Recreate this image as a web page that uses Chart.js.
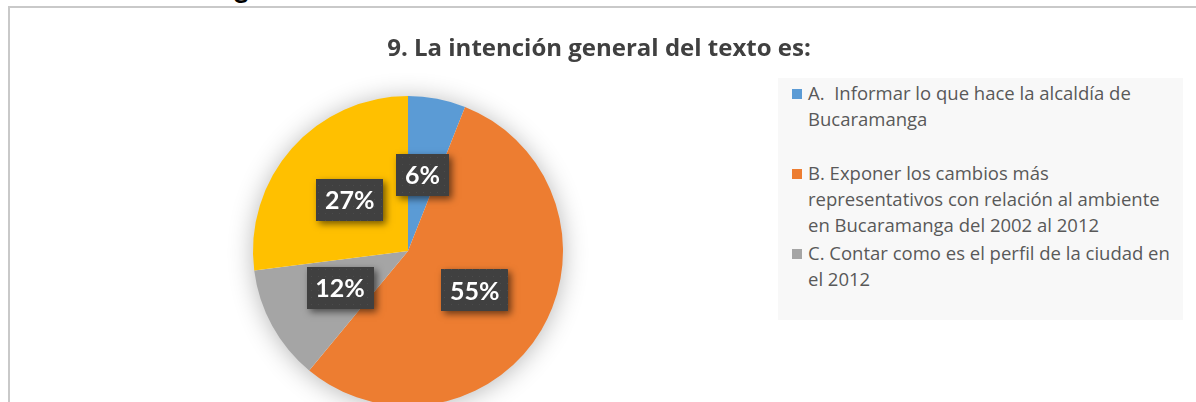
<!DOCTYPE html>
<html><head><meta charset="utf-8">
<script src="https://cdn.jsdelivr.net/npm/chart.js@4.4.1/dist/chart.umd.min.js"></script>
<style>
html,body{margin:0;padding:0;width:1196px;height:402px;overflow:hidden;background:#fff;}
#frame{position:absolute;left:8px;top:6px;width:1300px;height:500px;border-top:2px solid #c9c9c9;border-left:2px solid #c9c9c9;}
#frag{position:absolute;left:234px;top:-28px;font:bold 28px Lato, sans-serif;line-height:30px;color:#000;}
#wrap{position:absolute;left:0;top:0;width:1196px;height:440px;}
#title{position:absolute;left:10px;width:1178px;top:31px;text-align:center;font:bold 24px "Open Sans", sans-serif;line-height:32px;color:#404040;white-space:nowrap;}
#legend{position:absolute;left:778px;top:78px;width:405px;height:242px;background:#f8f8f8;}
.item{position:absolute;left:0;width:405px;}
.mk{position:absolute;left:14px;top:9px;width:10px;height:10px;}
.tx{position:absolute;left:30px;top:0;font:18.5px "Open Sans", sans-serif;line-height:26px;color:#595959;white-space:pre;}
</style></head>
<body>
<div id="frame"></div>
<div id="frag">g</div>
<div id="wrap"><canvas id="c" width="1196" height="440"></canvas></div>
<div id="title"></div>
<div id="legend"></div>
<script>
const chartTitle = "9. La intención general del texto es:";
const categories = [
  ["A.  Informar lo que hace la alcaldía de", "Bucaramanga"],
  ["B. Exponer los cambios más", "representativos con relación al ambiente", "en Bucaramanga del 2002 al 2012"],
  ["C. Contar como es el perfil de la ciudad en", "el 2012"],
  [""]
];
const values = [6, 55, 12, 27];
const colors = ["#5B9BD5", "#ED7D31", "#A5A5A5", "#FFC000"];

document.getElementById('title').textContent = chartTitle;
const leg = document.getElementById('legend');
categories.forEach((lines, i) => {
  if (!lines.join('').trim()) return;
  const it = document.createElement('div');
  it.className = 'item';
  it.style.top = (2 + 80 * i) + 'px';
  const mk = document.createElement('div');
  mk.className = 'mk'; mk.style.background = colors[i];
  const tx = document.createElement('div');
  tx.className = 'tx';
  tx.textContent = lines.join('\n');
  it.appendChild(mk); it.appendChild(tx); leg.appendChild(it);
});

// dotted texture for label boxes
const pc = document.createElement('canvas'); pc.width = 7; pc.height = 7;
const pctx = pc.getContext('2d');
pctx.fillStyle = '#404040'; pctx.fillRect(0, 0, 7, 7);
pctx.fillStyle = '#4c4c4c'; pctx.fillRect(3, 3, 1, 1);

const shadowPlugin = {
  id: 'pieShadow',
  beforeDatasetsDraw(chart) {
    const arc = chart.getDatasetMeta(0).data[0];
    if (!arc) return;
    const ctx = chart.ctx;
    ctx.save();
    ctx.shadowColor = 'rgba(0,0,0,0.3)';
    ctx.shadowBlur = 26;
    ctx.shadowOffsetX = 0; ctx.shadowOffsetY = 2;
    ctx.fillStyle = '#ffffff';
    ctx.beginPath();
    ctx.arc(arc.x, arc.y, arc.outerRadius - 1, 0, Math.PI * 2);
    ctx.fill();
    ctx.restore();
  }
};

const labelPlugin = {
  id: 'boxLabels',
  afterDatasetsDraw(chart) {
    const ctx = chart.ctx;
    const pattern = ctx.createPattern(pc, 'repeat');
    chart.getDatasetMeta(0).data.forEach((arc, i) => {
      const p = arc.tooltipPosition();
      const txt = values[i] + '%';
      ctx.save();
      ctx.font = 'bold 25px Lato, sans-serif';
      const w = Math.round(ctx.measureText(txt).width + 18), h = 42;
      const x0 = Math.round(p.x - w / 2), y0 = Math.round(p.y - h / 2);
      ctx.shadowColor = 'rgba(0,0,0,0.55)';
      ctx.shadowBlur = 7; ctx.shadowOffsetX = 3; ctx.shadowOffsetY = 3;
      ctx.fillStyle = '#404040';
      ctx.fillRect(x0, y0, w, h);
      ctx.shadowColor = 'transparent';
      ctx.fillStyle = pattern;
      ctx.fillRect(x0, y0, w, h);
      ctx.fillStyle = '#ffffff';
      ctx.textAlign = 'center'; ctx.textBaseline = 'middle';
      ctx.fillText(txt, p.x, p.y + 1);
      ctx.restore();
    });
  }
};

new Chart(document.getElementById('c'), {
  type: 'pie',
  data: {
    labels: categories,
    datasets: [{ data: values, backgroundColor: colors, borderWidth: 0 }]
  },
  options: {
    responsive: false,
    maintainAspectRatio: false,
    animation: false,
    layout: { padding: { left: 253, right: 633, top: 96, bottom: 34 } },
    plugins: { legend: { display: false }, tooltip: { enabled: false }, title: { display: false } }
  },
  plugins: [shadowPlugin, labelPlugin]
});
</script>
</body></html>
